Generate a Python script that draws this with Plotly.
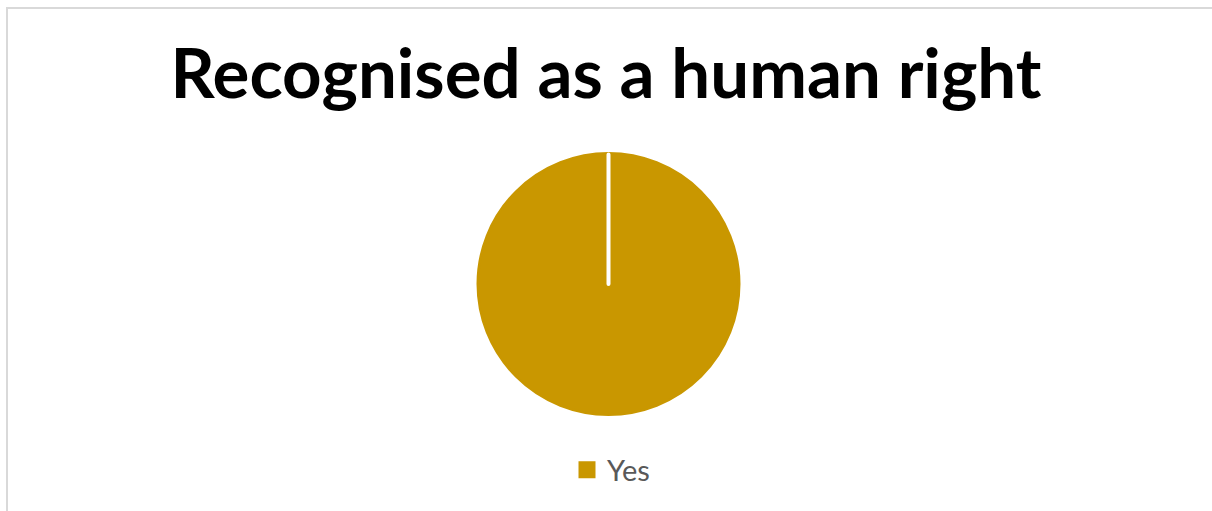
import plotly.graph_objects as go

title_text = "Recognised as a human right"
labels = ["Yes"]
values = [100]
gap_labels = ["Yes", "No"]
gap_values = [100, 0]
gold = "#C99700"

W, H = 1212, 511
cx_px, cy_px, r_px = 608.5, 284, 129.5
dom_x = [(cx_px - 200) / W, (cx_px + 200) / W]
dom_y = [(H - cy_px - r_px) / H, (H - cy_px + r_px) / H]

fig = go.Figure()
# legend-bearing pie
fig.add_trace(go.Pie(
    labels=labels, values=values, sort=False, direction="clockwise", rotation=0,
    marker=dict(colors=[gold], line=dict(color=gold, width=5)),
    textinfo="none", hoverinfo="label+percent", domain=dict(x=dom_x, y=dom_y),
    showlegend=True,
))
# overlay pie giving the white slice border at 12 o'clock
fig.add_trace(go.Pie(
    labels=gap_labels, values=gap_values, sort=False, direction="clockwise", rotation=0,
    marker=dict(colors=[gold, gold], line=dict(color="white", width=[0, 4])),
    textinfo="none", hoverinfo="skip", domain=dict(x=dom_x, y=dom_y),
    showlegend=False,
))

bx, by = 7 / W, 1 - 8 / H
fig.update_layout(
    width=W, height=H, autosize=False,
    margin=dict(l=0, r=0, t=0, b=0),
    paper_bgcolor="white", plot_bgcolor="white",
    title=dict(text="<b>" + title_text + "</b>", x=0.5, xanchor="center",
               y=1 - 74 / H, yanchor="middle", yref="paper",
               font=dict(family="Lato", size=69, color="#000000")),
    legend=dict(orientation="h", x=0.5 + 5 / W, xanchor="center", y=1 - 470 / H, yanchor="middle",
                font=dict(family="Lato", size=29, color="#595959"),
                bgcolor="rgba(0,0,0,0)"),
    shapes=[dict(type="path", xref="paper", yref="paper",
                 path=f"M {bx},0 L {bx},{by} L 1,{by}",
                 line=dict(color="#D9D9D9", width=2), layer="below")],
)

fig.write_html("out.html", config={"displayModeBar": False},
               post_script="document.body.style.margin='0px';")
